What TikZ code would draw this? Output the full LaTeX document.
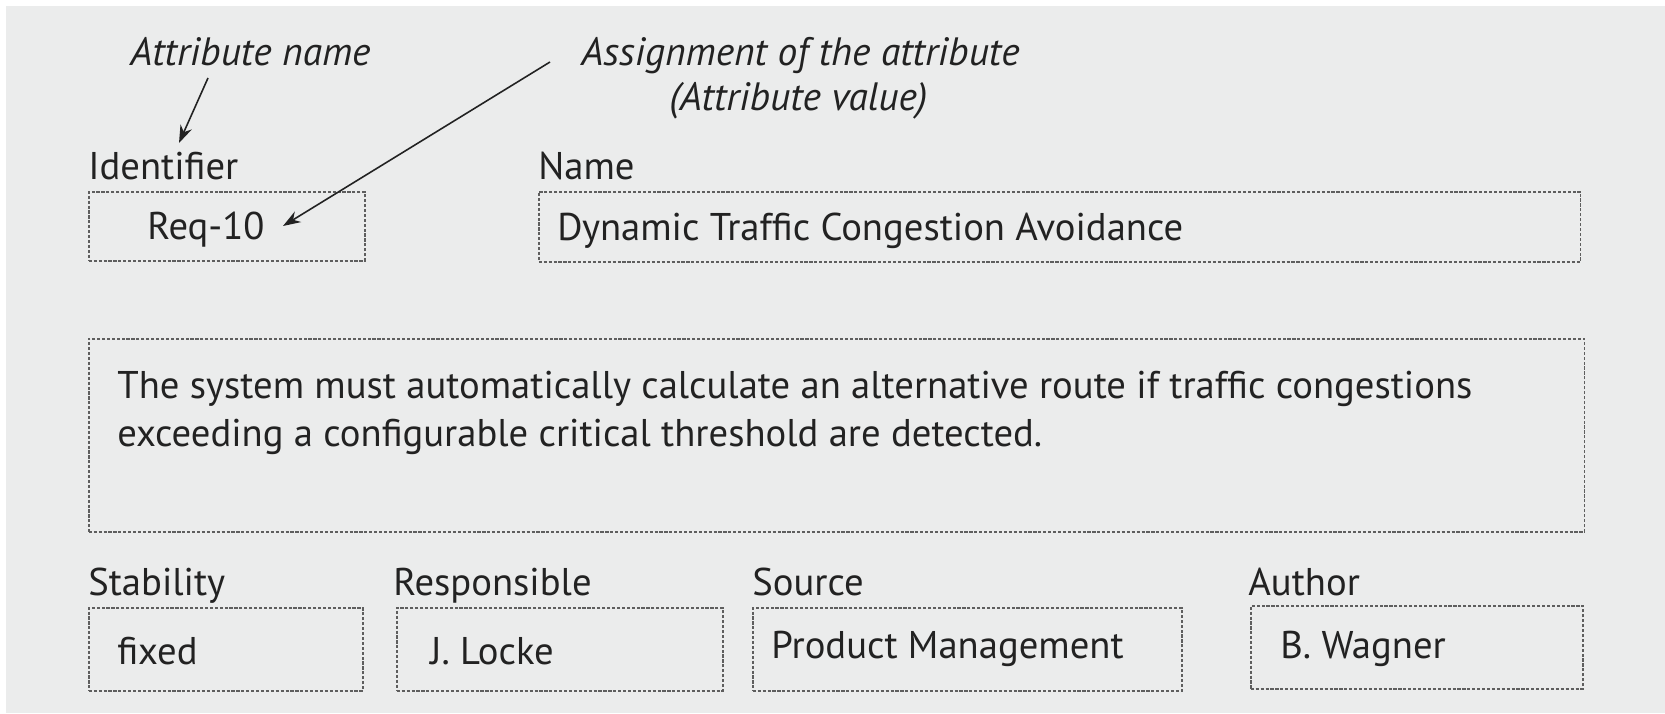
\documentclass[tikz,border=0pt]{standalone}
\usepackage{fontspec}
\setmainfont{PT Sans}
\usetikzlibrary{arrows.meta}
\definecolor{bg}{HTML}{EBECEC}
\definecolor{ink}{HTML}{222222}
\definecolor{dash}{HTML}{5E5E5E}
\begin{document}
\begin{tikzpicture}[x=0.02cm,y=-0.02cm,
  txt/.style={inner sep=0pt,anchor=base west,text=ink,font=\fontsize{22}{26}\selectfont},
  note/.style={inner sep=0pt,anchor=base west,text=ink,font=\fontsize{22.5}{26}\selectfont\itshape},
  box/.style={draw=dash,line width=0.9pt,dash pattern=on 1.8pt off 1pt,inner sep=0pt,anchor=north west},
  arr/.style={draw=ink,line width=0.9pt,-{Stealth[length=10pt,width=7pt]}}]
\fill[white] (0,0) rectangle (1665,713);
\fill[bg] (6,6) rectangle (1665,713);
\useasboundingbox (0,0) rectangle (1665,713);
% annotations
\node[note] (an) at (130,66) {Attribute name};
\node[note] (asg1) at (581,66) {Assignment of the attribute};
\node[note] (asg2) at (669,111) {(Attribute value)};
% labels
\node[txt] (idl) at (88,179) {Identifier};
\node[txt] (nml) at (538,179) {Name};
% boxes
\node[box,minimum width=5.52cm,minimum height=1.38cm] (idbox) at (88,191) {};
\node[box,minimum width=20.84cm,minimum height=1.40cm] (namebox) at (538,191) {};
\node[box,minimum width=29.92cm,minimum height=3.86cm] (descbox) at (88,338) {};
\node[box,minimum width=5.48cm,minimum height=1.66cm] (stabbox) at (88,607) {};
\node[box,minimum width=6.52cm,minimum height=1.66cm] (respbox) at (396,607) {};
\node[box,minimum width=8.58cm,minimum height=1.66cm] (srcbox) at (752,607) {};
\node[box,minimum width=6.64cm,minimum height=1.66cm] (authbox) at (1250,605) {};
% values
\node[txt] (req) at (147,239) {Req-10};
\node[txt] (nmv) at (557,240) {Dynamic Traffic Congestion Avoidance};
\node[txt] (d1) at (117,398) {The system must automatically calculate an alternative route if traffic congestions};
\node[txt] (d2) at (117,446) {exceeding a configurable critical threshold are detected.};
\node[txt] (stl) at (88,595) {Stability};
\node[txt] (rsl) at (393,595) {Responsible};
\node[txt] (scl) at (752,595) {Source};
\node[txt] (aul) at (1248,595) {Author};
\node[txt] (stv) at (117,664) {fixed};
\node[txt] (rsv) at (430,664) {J. Locke};
\node[txt] (scv) at (771,658) {Product Management};
\node[txt] (auv) at (1280,658) {B. Wagner};
% arrows
\coordinate (a1s) at (208,78);
\coordinate (a1e) at (179,143);
\coordinate (a2s) at (550,62);
\coordinate (a2e) at (283,226);
\draw[arr] (a1s) -- (a1e);
\draw[arr] (a2s) -- (a2e);
\end{tikzpicture}
\end{document}
